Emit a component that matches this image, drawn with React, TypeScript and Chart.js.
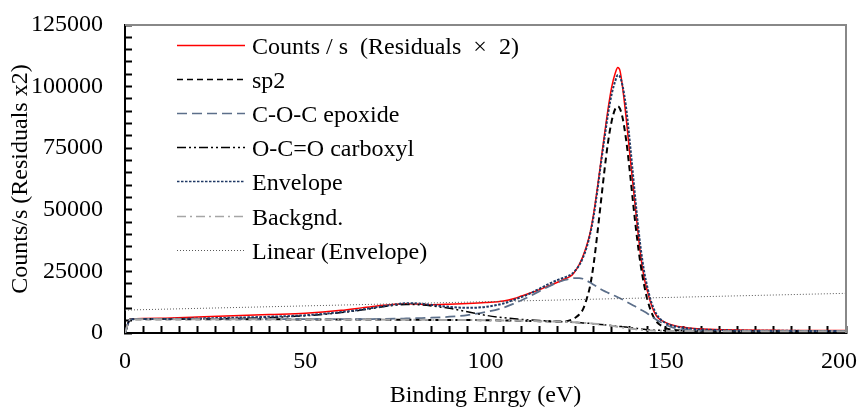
import { useEffect, useRef } from "react";
import { Chart, registerables } from "chart.js";

Chart.register(...registerables);

// Binding energy grid (eV) shared by the fitted spectrum and its components
const energy = [
  0, 1.5, 10, 20, 30, 40, 50, 60, 66, 70,
  75, 78, 82, 85, 90, 95, 100, 105, 108, 110,
  112, 115, 117, 120, 122, 124, 125, 126, 127, 128,
  129, 130, 131, 132, 133, 134, 135, 136, 136.7, 137.3,
  138, 139, 140, 141, 142, 143, 144, 145, 146, 147,
  148, 150, 152, 155, 158, 162, 170, 180, 190, 200,
];

const countsPerSec = [
  0, 5700, 6000, 6500, 7000, 7500, 8000, 9200, 10300, 11000,
  11700, 11900, 11700, 11500, 11700, 12000, 12400, 13000, 14000, 15000,
  16000, 17600, 18800, 20600, 21900, 23500, 25300, 27800, 31000, 35200,
  40500, 48500, 58500, 69500, 80500, 91000, 99800, 105500, 107800, 106500,
  100000, 87500, 73000, 59000, 45000, 32000, 22500, 16500, 11500, 8000,
  6000, 4200, 3200, 2300, 1800, 1500, 1200, 1100, 1000, 1000,
];

const sp2 = [
  0, 5600, 5600, 5600, 5550, 5550, 5500, 5500, 5450, 5450,
  5400, 5400, 5350, 5300, 5300, 5250, 5200, 5100, 5000, 4950,
  4900, 4800, 4750, 4650, 4700, 5500, 6300, 7500, 9500, 13500,
  19000, 28000, 40000, 53000, 66000, 77500, 86000, 91000, 92000, 91000,
  87500, 78500, 66000, 52000, 39000, 28000, 19500, 13000, 8500, 5500,
  3800, 2000, 1300, 1000, 850, 800, 750, 720, 700, 700,
];

const epoxide = [
  0, 5600, 5600, 5600, 5600, 5600, 5600, 5600, 5650, 5700,
  5800, 5900, 6050, 6200, 6600, 7300, 8500, 10300, 12000, 13300,
  14700, 17000, 18500, 20500, 21500, 22200, 22300, 22300, 22000, 21300,
  20500, 19600, 18700, 17800, 17000, 16300, 15600, 15000, 14500, 14100,
  13600, 12800, 12000, 11200, 10400, 9500, 8700, 7800, 6800, 5800,
  4900, 3300, 2200, 1400, 1100, 950, 850, 800, 750, 750,
];

const carboxyl = [
  0, 5600, 5650, 5700, 5900, 6300, 7000, 8300, 9400, 10300,
  11300, 11600, 11400, 11000, 10000, 8600, 7200, 6200, 5800, 5500,
  5300, 5100, 4950, 4700, 4550, 4400, 4300, 4200, 4100, 4000,
  3900, 3750, 3600, 3450, 3300, 3150, 3000, 2850, 2750, 2650,
  2550, 2400, 2200, 2000, 1850, 1650, 1500, 1350, 1250, 1150,
  1100, 1000, 950, 900, 870, 850, 820, 800, 780, 770,
];

const envelope = [
  0, 5600, 5700, 5900, 6200, 6600, 7200, 8500, 9600, 10500,
  11600, 12100, 11900, 11400, 10600, 10200, 10600, 12000, 13500, 14600,
  15800, 18000, 19500, 21500, 22600, 24000, 25500, 27500, 30500, 34500,
  40000, 47500, 57500, 68500, 79000, 89000, 97000, 102300, 104700, 104000,
  100500, 91500, 78000, 63000, 48000, 35000, 25000, 18000, 12500, 8800,
  6400, 4000, 2900, 2100, 1600, 1300, 1000, 900, 850, 800,
];

const background = [
  0, 5600, 5600, 5600, 5550, 5550, 5500, 5500, 5450, 5450,
  5400, 5400, 5350, 5300, 5300, 5250, 5200, 5100, 5000, 4950,
  4900, 4800, 4750, 4650, 4550, 4400, 4330, 4250, 4150, 4050,
  3950, 3800, 3650, 3500, 3300, 3100, 2900, 2700, 2550, 2400,
  2250, 2050, 1850, 1650, 1450, 1300, 1200, 1100, 1000, 950,
  900, 850, 800, 780, 760, 750, 730, 720, 700, 700,
];

// Linear trend fitted to the envelope
const trendEnergy = [0, 200];
const trendValues = [9300, 16100];

// Labelled binding-energy ticks
const energyTickLabels = [0, 50, 100, 150, 200];

const FONT_FAMILY = "'Times New Roman', 'Liberation Serif', serif";
const FONT_SIZE = 24;

const toPoints = (xs: number[], ys: number[]) => xs.map((x, i) => ({ x, y: ys[i] }));

// Gray frame on the top and right edges of the plot area
const framePlugin = {
  id: "plotFrame",
  afterDraw(chart: any) {
    const { ctx, chartArea } = chart;
    ctx.save();
    ctx.strokeStyle = "#888888";
    ctx.lineWidth = 2;
    ctx.beginPath();
    ctx.moveTo(chartArea.left, chartArea.top);
    ctx.lineTo(chartArea.right, chartArea.top);
    ctx.lineTo(chartArea.right, chartArea.bottom);
    ctx.stroke();
    ctx.restore();
  },
};

// Energy tick labels, kept inside the canvas at the right edge
const energyLabelPlugin = {
  id: "energyLabels",
  afterDraw(chart: any) {
    const { ctx, chartArea, width } = chart;
    const scale = chart.scales.x;
    ctx.save();
    ctx.font = `${FONT_SIZE}px ${FONT_FAMILY}`;
    ctx.fillStyle = "#000000";
    ctx.textAlign = "center";
    ctx.textBaseline = "middle";
    energyTickLabels.forEach((v) => {
      const text = String(v);
      const w = ctx.measureText(text).width;
      const px = Math.min(scale.getPixelForValue(v), width - 2 - w / 2);
      ctx.fillText(text, px, chartArea.bottom + 28.5);
    });
    ctx.restore();
  },
};

// Legend inside the plot: a line sample in each series' style followed by its name
const insideLegendPlugin = {
  id: "insideLegend",
  afterDraw(chart: any) {
    const { ctx, chartArea } = chart;
    const x0 = chartArea.left + 52;
    const x1 = chartArea.left + 120;
    const textX = chartArea.left + 127;
    const rowTop = chartArea.top + 20;
    const rowStep = 34.1;
    ctx.save();
    ctx.font = `${FONT_SIZE}px ${FONT_FAMILY}`;
    ctx.textBaseline = "alphabetic";
    ctx.textAlign = "left";
    chart.data.datasets.forEach((ds: any, i: number) => {
      const y = Math.round(rowTop + i * rowStep) + 0.5;
      ctx.beginPath();
      ctx.setLineDash(ds.borderDash || []);
      ctx.strokeStyle = ds.borderColor;
      ctx.lineWidth = Math.min(ds.borderWidth, 1.5);
      ctx.moveTo(x0, y);
      ctx.lineTo(x1, y);
      ctx.stroke();
      ctx.setLineDash([]);
      ctx.fillStyle = "#000000";
      ctx.fillText(ds.label, textX, y + 8);
    });
    ctx.restore();
  },
};

export default function App() {
  const canvasRef = useRef<HTMLCanvasElement | null>(null);

  useEffect(() => {
    document.body.style.margin = "0";
    const canvas = canvasRef.current;
    if (!canvas) return;

    const line = (label: string, data: any, color: string, width: number, dash: number[], order: number) => ({
      label,
      data,
      borderColor: color,
      backgroundColor: color,
      borderWidth: width,
      borderDash: dash,
      pointRadius: 0,
      pointHoverRadius: 0,
      fill: false,
      cubicInterpolationMode: "monotone" as const,
      order,
    });

    const tickFont = { family: FONT_FAMILY, size: FONT_SIZE };

    const chart = new Chart(canvas, {
      type: "line",
      data: {
        datasets: [
          line("Counts / s  (Residuals  ×  2)", toPoints(energy, countsPerSec), "#ff0000", 1.5, [], 6),
          line("sp2", toPoints(energy, sp2), "#000000", 2, [6, 4], 5),
          line("C-O-C epoxide", toPoints(energy, epoxide), "#5c6f8a", 1.75, [10, 5], 4),
          line("O-C=O carboxyl", toPoints(energy, carboxyl), "#000000", 1.5, [9, 3, 2, 3, 2, 3], 3),
          line("Envelope", toPoints(energy, envelope), "#1f3864", 2, [2.5, 1.5], 2),
          line("Backgnd.", toPoints(energy, background), "#a6a6a6", 2, [9, 4, 2, 4], 1),
          line("Linear (Envelope)", toPoints(trendEnergy, trendValues), "#595959", 1, [1, 2], 0),
        ],
      },
      options: {
        responsive: false,
        animation: false,
        events: [],
        layout: { padding: { left: 0, top: 25, right: 13, bottom: 0 } },
        plugins: {
          legend: { display: false },
          tooltip: { enabled: false },
          title: { display: false },
        },
        scales: {
          x: {
            type: "linear",
            min: 0,
            max: 200,
            ticks: {
              stepSize: 5,
              autoSkip: false,
              maxRotation: 0,
              minRotation: 0,
              color: "#000000",
              font: tickFont,
              padding: 21,
              callback: () => "",
            },
            grid: {
              drawOnChartArea: false,
              drawTicks: true,
              tickLength: -7,
              tickColor: "#000000",
              tickWidth: 2,
            },
            border: { display: true, color: "#000000", width: 2 },
            title: {
              display: true,
              text: "Binding Enrgy (eV)",
              color: "#000000",
              font: tickFont,
              padding: { top: 0, bottom: -3 },
            },
            afterFit: (scale: any) => {
              scale.height = 74;
              scale.paddingLeft = 0;
              scale.paddingRight = 0;
            },
          },
          y: {
            type: "linear",
            min: 0,
            max: 125000,
            ticks: {
              stepSize: 5000,
              autoSkip: false,
              color: "#000000",
              font: tickFont,
              padding: 29,
              callback: (v: any) => (Number(v) % 25000 === 0 ? String(v) : ""),
            },
            grid: {
              drawOnChartArea: false,
              drawTicks: true,
              tickLength: -7,
              tickColor: "#000000",
              tickWidth: 2,
            },
            border: { display: true, color: "#000000", width: 2 },
            title: {
              display: true,
              text: "Counts/s (Residuals x2)",
              color: "#000000",
              font: tickFont,
              padding: { top: 6, bottom: 0 },
            },
            afterFit: (scale: any) => {
              scale.width = 125;
              scale.paddingTop = 0;
              scale.paddingBottom = 0;
            },
          },
        },
      },
      plugins: [framePlugin, energyLabelPlugin, insideLegendPlugin],
    });

    return () => chart.destroy();
  }, []);

  return (
    <div style={{ width: 859, height: 407, background: "#ffffff" }}>
      <canvas ref={canvasRef} width={859} height={407} />
    </div>
  );
}
